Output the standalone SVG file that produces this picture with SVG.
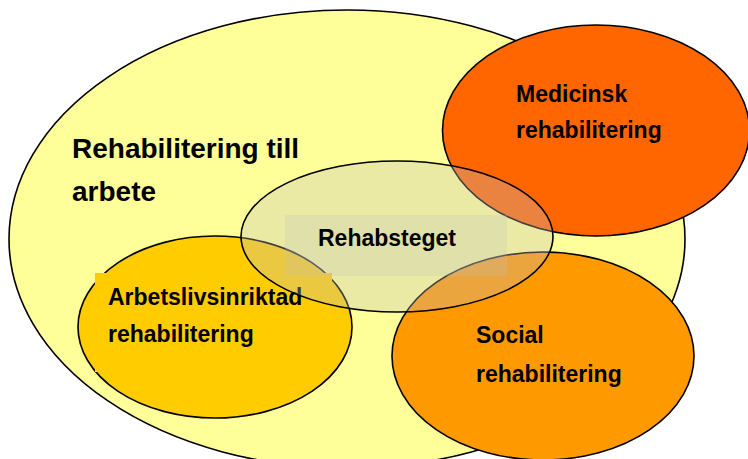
<svg xmlns="http://www.w3.org/2000/svg" width="748" height="459" viewBox="0 0 748 459">
  <style>
    .ring { stroke: #000; stroke-width: 1.6; }
    .lbl { font-family: "Liberation Sans", Arial, sans-serif; font-weight: bold; fill: #000; }
    .mid { font-size: 23px; }
    .big { font-size: 28px; }
  </style>
  <rect width="748" height="459" fill="#ffffff"/>

  <!-- outer field: rehabilitation towards work -->
  <g id="rehab-till-arbete">
    <ellipse class="ring" cx="347" cy="239" rx="338" ry="229" fill="#FFFF99"/>
    <text class="lbl big" x="72" y="158">Rehabilitering till</text>
    <text class="lbl big" x="72" y="201">arbete</text>
  </g>

  <!-- work-oriented rehabilitation -->
  <g id="arbetslivsinriktad">
    <ellipse class="ring" cx="215" cy="327" rx="137" ry="91" fill="#FFCC00"/>
    <rect x="95" y="273" width="237" height="99" fill="#FFCC00"/>
    <text class="lbl mid" x="108" y="305">Arbetslivsinriktad</text>
    <text class="lbl mid" x="108" y="342">rehabilitering</text>
  </g>

  <!-- medical rehabilitation -->
  <g id="medicinsk">
    <ellipse class="ring" cx="596" cy="130.5" rx="153.5" ry="105.5" fill="#FF6600"/>
    <text class="lbl mid" x="516" y="102">Medicinsk</text>
    <text class="lbl mid" x="516" y="138">rehabilitering</text>
  </g>

  <!-- social rehabilitation -->
  <g id="social">
    <ellipse class="ring" cx="543" cy="356" rx="151" ry="104" fill="#FF9900"/>
    <text class="lbl mid" x="476" y="343">Social</text>
    <text class="lbl mid" x="476" y="382">rehabilitering</text>
  </g>

  <!-- translucent central step, laid over the others -->
  <g id="rehabsteget">
    <ellipse cx="397" cy="236.5" rx="156" ry="75.5" fill="#C0C0C0" fill-opacity="0.33" stroke="#000" stroke-width="1.6"/>
    <rect x="285" y="215" width="222" height="61" fill="#C0C0C0" fill-opacity="0.24"/>
    <text class="lbl mid" x="318" y="246">Rehabsteget</text>
  </g>

  <g id="connectors"/>
</svg>
